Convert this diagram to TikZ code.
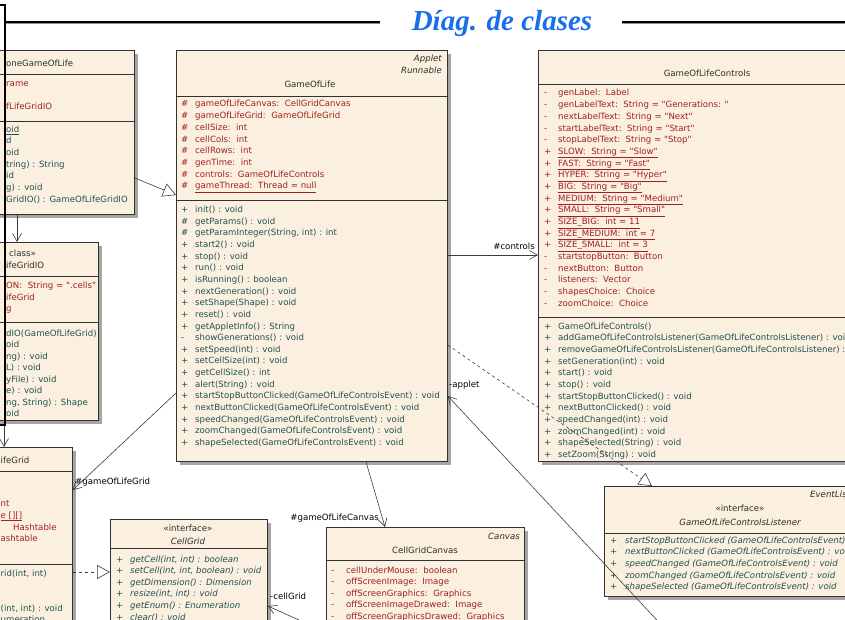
\documentclass[tikz,border=0pt]{standalone}
\usepackage{fontspec}
\newfontfamily\umlfont{DejaVu Sans}
\newfontfamily\titlefont{Liberation Serif}
\usetikzlibrary{arrows.meta, calc, shadows}
\definecolor{boxfill}{RGB}{251, 240, 224}
\definecolor{boxline}{RGB}{50, 50, 50}
\definecolor{shadowgray}{RGB}{165, 165, 165}
\definecolor{attrred}{RGB}{160, 32, 32}
\definecolor{methteal}{RGB}{30, 82, 82}
\definecolor{hdrtext}{RGB}{45, 45, 45}
\definecolor{linkgray}{RGB}{60, 60, 60}
\definecolor{titleblue}{RGB}{25, 110, 235}

\begin{document}
\begin{tikzpicture}[
        x=1pt, y=-1pt,
        %% one unit = one pixel of the 845x620 sheet, y grows downwards
        classbox/.style={rectangle, draw=boxline, line width=0.8pt, fill=boxfill, anchor=north west, inner sep=0pt,
            drop shadow={shadow xshift=4pt, shadow yshift=-4pt, fill=shadowgray, opacity=1}},
        sepline/.style={draw=boxline, line width=0.8pt},
        umltext/.style={font=\umlfont\fontsize{8.6}{10}\selectfont, inner sep=0pt, anchor=base west},
        attr/.style={umltext, text=attrred},
        meth/.style={umltext, text=methteal},
        absmeth/.style={meth, font=\umlfont\itshape\fontsize{8.6}{10}\selectfont},
        hdr/.style={umltext, text=hdrtext, anchor=base},
        hdrital/.style={hdr, font=\umlfont\itshape\fontsize{8.6}{10}\selectfont},
        role/.style={umltext, text=black},
        link/.style={draw=linkgray, line width=0.6pt},
        assoc/.style={link, -{Straight Barb[length=8pt, width=9pt]}},
        realize/.style={link, dash pattern=on 3pt off 3pt, -{Triangle[open, length=13pt, width=14pt, fill=white]}},
        inherit/.style={link, -{Triangle[open, length=13pt, width=14pt, fill=white]}},
        frameline/.style={draw=black, line width=2pt},
        titletext/.style={font=\titlefont\bfseries\itshape\fontsize{29}{30}\selectfont, text=titleblue, inner sep=0pt, anchor=base}
    ]
    \useasboundingbox (0,0) rectangle (845,620);
    \clip (0,0) rectangle (845,620);

    %% --- Title with rules ---
    \draw[draw=black!45, line width=1.5pt] (4.5,23.5) -- (380,23.5);
    \draw[draw=black!45, line width=1.5pt] (622,23.5) -- (850,23.5);
    \draw[draw=black, line width=2pt] (4.5,22) -- (380,22);
    \draw[draw=black, line width=2pt] (622,22) -- (850,22);
    \node[titletext] (title) at (502,31) {Díag. de clases};

    %% --- StandaloneGameOfLife (cut at the left edge) ---
    \node[classbox, minimum width=154pt, minimum height=164pt] (stand) at (-20,50) {};
    \draw[sepline] ($(stand.north west)+(0,24)$) -- ($(stand.north east)+(0,24)$);
    \draw[sepline] ($(stand.north west)+(0,71)$) -- ($(stand.north east)+(0,71)$);
    \node[hdr, anchor=base west] (standname) at (6,67) {oneGameOfLife};
    \foreach \y/\t [count=\i] in {87/rame, 110/fLifeGridIO}
        \node[attr] (standa\i) at (6,\y) {\t};
    \foreach \y/\t [count=\i] in {133/{\underline{oid}}, 144/d, 156/oid, 168/{tring) : String}, 179/id,
            191/{g) : void}, 203/{GridIO() : GameOfLifeGridIO}}
        \node[meth] (standm\i) at (6,\y) {\t};

    %% --- GameOfLifeGridIO (cut at the left edge) ---
    \node[classbox, minimum width=118pt, minimum height=178pt] (gridio) at (-20,242) {};
    \draw[sepline] ($(gridio.north west)+(0,34)$) -- ($(gridio.north east)+(0,34)$);
    \draw[sepline] ($(gridio.north west)+(0,80)$) -- ($(gridio.north east)+(0,80)$);
    \node[hdr, anchor=base west] (gridiokind) at (9,256) {class»};
    \node[hdr, anchor=base west] (gridioname) at (6,268) {ifeGridIO};
    \foreach \y/\t [count=\i] in {288/{ON:~~String = ".cells"}, 300/ifeGrid, 311/g}
        \node[attr] (gridioa\i) at (6,\y) {\t};
    \foreach \y/\t [count=\i] in {336/{dIO(GameOfLifeGrid)}, 347/oid, 359/{ng) : void}, 370/{L) : void},
            382/{yFile) : void}, 393/{e) : void}, 405/{ng, String) : Shape}, 416/oid}
        \node[meth] (gridiom\i) at (6,\y) {\t};

    %% --- GameOfLifeGrid (cut at the left edge) ---
    \node[classbox, minimum width=92pt, minimum height=200pt] (grid) at (-20,447) {};
    \draw[sepline] ($(grid.north west)+(0,24)$) -- ($(grid.north east)+(0,24)$);
    \draw[sepline] ($(grid.north west)+(0,117)$) -- ($(grid.north east)+(0,117)$);
    \node[hdr, anchor=base west] (gridname) at (0.5,463) {ifeGrid};
    \foreach \x/\y/\t [count=\i] in {0.5/506/nt, 0.5/518/{\underline{e [][]}}, 13/530/Hashtable, 0.5/541/ashtable}
        \node[attr] (grida\i) at (\x,\y) {\t};
    \foreach \y/\t [count=\i] in {576/{rid(int, int)}, 611/{(int, int) : void}, 622/umeration}
        \node[meth] (gridm\i) at (0.5,\y) {\t};

    %% --- GameOfLife ---
    \node[classbox, minimum width=271pt, minimum height=411pt] (golife) at (176,50) {};
    \draw[sepline] ($(golife.north west)+(0,46)$) -- ($(golife.north east)+(0,46)$);
    \draw[sepline] ($(golife.north west)+(0,150)$) -- ($(golife.north east)+(0,150)$);
    \node[hdrital, anchor=base east] (golifeext1) at (442,62) {Applet};
    \node[hdrital, anchor=base east] (golifeext2) at (442,74) {Runnable};
    \node[hdr] (golifename) at (310,88) {GameOfLife};
    \foreach \p/\t [count=\i from 0] in {
            \#/{gameOfLifeCanvas:~~CellGridCanvas}, \#/{gameOfLifeGrid:~~GameOfLifeGrid},
            \#/{cellSize:~~int}, \#/{cellCols:~~int}, \#/{cellRows:~~int}, \#/{genTime:~~int},
            \#/{controls:~~GameOfLifeControls}, \#/{\underline{gameThread:~~Thread = null}}} {
        \node[attr] (golifeap\i) at (181,107+11.68*\i) {\p};
        \node[attr] (golifea\i) at (195,107+11.68*\i) {\t};
    }
    \foreach \p/\t [count=\i from 0] in {
            +/{init() : void}, \#/{getParams() : void}, \#/{getParamInteger(String, int) : int},
            +/{start2() : void}, +/{stop() : void}, +/{run() : void}, +/{isRunning() : boolean},
            +/{nextGeneration() : void}, +/{setShape(Shape) : void}, +/{reset() : void},
            +/{getAppletInfo() : String}, -/{showGenerations() : void}, +/{setSpeed(int) : void},
            +/{setCellSize(int) : void}, +/{getCellSize() : int}, +/{alert(String) : void},
            +/{startStopButtonClicked(GameOfLifeControlsEvent) : void},
            +/{nextButtonClicked(GameOfLifeControlsEvent) : void},
            +/{speedChanged(GameOfLifeControlsEvent) : void},
            +/{zoomChanged(GameOfLifeControlsEvent) : void},
            +/{shapeSelected(GameOfLifeControlsEvent) : void}} {
        \node[meth] (golifemp\i) at (181,212.5+11.65*\i) {\p};
        \node[meth] (golifem\i) at (195,212.5+11.65*\i) {\t};
    }

    %% --- GameOfLifeControls (runs past the right edge) ---
    \node[classbox, minimum width=338pt, minimum height=411pt] (controls) at (538,50) {};
    \draw[sepline] ($(controls.north west)+(0,34)$) -- ($(controls.north east)+(0,34)$);
    \draw[sepline] ($(controls.north west)+(0,267)$) -- ($(controls.north east)+(0,267)$);
    \node[hdr] (controlsname) at (707,77) {GameOfLifeControls};
    \foreach \p/\t [count=\i from 0] in {
            -/{genLabel:~~Label}, -/{genLabelText:~~String = "Generations: "},
            -/{nextLabelText:~~String = "Next"}, -/{startLabelText:~~String = "Start"},
            -/{stopLabelText:~~String = "Stop"},
            +/{\underline{SLOW:~~String = "Slow"}}, +/{\underline{FAST:~~String = "Fast"}},
            +/{\underline{HYPER:~~String = "Hyper"}}, +/{\underline{BIG:~~String = "Big"}},
            +/{\underline{MEDIUM:~~String = "Medium"}}, +/{\underline{SMALL:~~String = "Small"}},
            +/{\underline{SIZE\_BIG:~~int = 11}}, +/{\underline{SIZE\_MEDIUM:~~int = 7}},
            +/{\underline{SIZE\_SMALL:~~int = 3}},
            -/{startstopButton:~~Button}, -/{nextButton:~~Button}, -/{listeners:~~Vector},
            -/{shapesChoice:~~Choice}, -/{zoomChoice:~~Choice}} {
        \node[attr] (controlsap\i) at (544,96+11.67*\i) {\p};
        \node[attr] (controlsa\i) at (558,96+11.67*\i) {\t};
    }
    \foreach \p/\t [count=\i from 0] in {
            +/{GameOfLifeControls()},
            +/{addGameOfLifeControlsListener(GameOfLifeControlsListener) : void},
            +/{removeGameOfLifeControlsListener(GameOfLifeControlsListener) : void},
            +/{setGeneration(int) : void}, +/{start() : void}, +/{stop() : void},
            +/{startStopButtonClicked() : void}, +/{nextButtonClicked() : void},
            +/{speedChanged(int) : void}, +/{zoomChanged(int) : void},
            +/{shapeSelected(String) : void}, +/{setZoom(String) : void}} {
        \node[meth] (controlsmp\i) at (544,329+11.67*\i) {\p};
        \node[meth] (controlsm\i) at (558,329+11.67*\i) {\t};
    }

    %% --- CellGrid interface ---
    \node[classbox, minimum width=157pt, minimum height=125pt] (cellgrid) at (110,519) {};
    \draw[sepline] ($(cellgrid.north west)+(0,29)$) -- ($(cellgrid.north east)+(0,29)$);
    \node[hdr] (cellgridkind) at (188,531) {«interface»};
    \node[hdrital] (cellgridname) at (188,544) {CellGrid};
    \foreach \t [count=\i from 0] in {{getCell(int, int) : boolean}, {setCell(int, int, boolean) : void},
            {getDimension() : Dimension}, {resize(int, int) : void}, {getEnum() : Enumeration}, {clear() : void}} {
        \node[meth] (cellgridmp\i) at (116,562+11.6*\i) {+};
        \node[absmeth] (cellgridm\i) at (130,562+11.6*\i) {\t};
    }

    %% --- CellGridCanvas ---
    \node[classbox, minimum width=198pt, minimum height=120pt] (canvas) at (326,527) {};
    \draw[sepline] ($(canvas.north west)+(0,33)$) -- ($(canvas.north east)+(0,33)$);
    \node[hdrital, anchor=base east] (canvasext) at (520,539) {Canvas};
    \node[hdr] (canvasname) at (425,553) {CellGridCanvas};
    \foreach \t [count=\i from 0] in {{cellUnderMouse:~~boolean}, {offScreenImage:~~Image},
            {offScreenGraphics:~~Graphics}, {offScreenImageDrawed:~~Image}, {offScreenGraphicsDrawed:~~Graphics}} {
        \node[attr] (canvasap\i) at (331,573+11.6*\i) {-};
        \node[attr] (canvasa\i) at (346,573+11.6*\i) {\t};
    }

    %% --- GameOfLifeControlsListener interface ---
    \node[classbox, minimum width=272pt, minimum height=110pt] (listener) at (604,486) {};
    \draw[sepline] ($(listener.north west)+(0,47)$) -- ($(listener.north east)+(0,47)$);
    \node[hdrital, anchor=base west] (listenerext) at (810,497) {EventListener};
    \node[hdr] (listenerkind) at (740,511) {«interface»};
    \node[hdrital] (listenername) at (740,525) {GameOfLifeControlsListener};
    \foreach \t [count=\i from 0] in {{startStopButtonClicked (GameOfLifeControlsEvent) : void},
            {nextButtonClicked (GameOfLifeControlsEvent) : void}, {speedChanged (GameOfLifeControlsEvent) : void},
            {zoomChanged (GameOfLifeControlsEvent) : void}, {shapeSelected (GameOfLifeControlsEvent) : void}} {
        \node[meth] (listenermp\i) at (610,543+11.7*\i) {+};
        \node[absmeth] (listenerm\i) at (625,543+11.7*\i) {\t};
    }

    %% --- free ends of links leaving the sheet ---
    \coordinate (appletend) at (668,632);
    \coordinate (cellgridend) at (328,633);

    %% --- Links ---
    \draw[inherit] ($(stand.north east)+(0,128)$) -- ($(golife.north west)+(0,145)$);
    \draw[assoc] ($(stand.south west)+(37,0)$) -- ($(gridio.north west)+(37,0)$);
    \draw[assoc] ($(gridio.south west)+(24,0)$) -- ($(grid.north west)+(24,0)$);
    \draw[assoc] ($(golife.north east)+(0,205)$) -- ($(controls.north west)+(0,205)$);
    \node[role, anchor=base east] (controlsrole) at (535,249) {\#controls};
    \draw[realize] ($(golife.north east)+(0,295)$) -- ($(listener.north west)+(48,0)$);
    \draw[assoc] (appletend) -- ($(golife.north east)+(0,346)$);
    \node[role] (appletrole) at (449,387) {-applet};
    \draw[assoc] ($(golife.south west)+(190,0)$) -- ($(canvas.north west)+(59,0)$);
    \node[role, anchor=base east] (canvasrole) at (379,520) {\#gameOfLifeCanvas};
    \draw[assoc] ($(golife.north west)+(0,343)$) -- ($(grid.north east)+(0,43)$);
    \node[role] (gridrole) at (75,484) {\#gameOfLifeGrid};
    \draw[realize] ($(grid.north east)+(0,125)$) -- ($(cellgrid.north west)+(0,53)$);
    \draw[assoc] (cellgridend) -- ($(cellgrid.north east)+(0,87)$);
    \node[role] (cellgridrole) at (270,599) {-cellGrid};

    %% --- frame over the left edge ---
    \draw[frameline] (-2,5) -- (4.5,5) -- (4.5,425) -- (-2,425);
\end{tikzpicture}
\end{document}
